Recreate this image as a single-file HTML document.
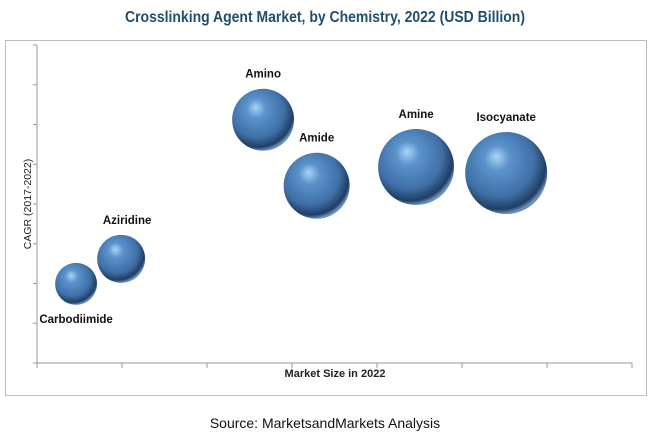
<!DOCTYPE html>
<html><head><meta charset="utf-8"><style>
body{margin:0;background:#fff;width:650px;height:435px;overflow:hidden;font-family:"Liberation Sans",sans-serif}
</style></head><body>
<svg id="chart" width="650" height="435" xmlns="http://www.w3.org/2000/svg">
<defs>
<radialGradient id="ball" cx="0.42" cy="0.38" r="0.62" fx="0.38" fy="0.3">
<stop offset="0" stop-color="#a9d4f7"/>
<stop offset="0.25" stop-color="#5c93cc"/>
<stop offset="0.7" stop-color="#3f6fa6"/>
<stop offset="0.92" stop-color="#1f3e63"/>
<stop offset="1" stop-color="#6d93bd"/>
</radialGradient>
</defs>
<text x="325" y="22" text-anchor="middle" font-family="Liberation Sans Narrow, Liberation Sans, sans-serif" font-weight="bold" font-size="15.5" fill="#1f4e6e" textLength="400" lengthAdjust="spacingAndGlyphs">Crosslinking Agent Market, by Chemistry, 2022 (USD Billion)</text>
<rect x="5.5" y="40.5" width="641" height="355" fill="none" stroke="#bbb"/>
<g id="axes"></g>
<g id="bubbles"></g>
<text x="335" y="377" text-anchor="middle" font-size="11" font-weight="bold" fill="#222">Market Size in 2022</text>
<text transform="translate(31,204) rotate(-90)" text-anchor="middle" font-size="10.5" fill="#222">CAGR (2017-2022)</text>
<text x="325" y="428" text-anchor="middle" font-size="14" fill="#111">Source: MarketsandMarkets Analysis</text>
</svg>
<script>
const categories=["Carbodiimide","Aziridine","Amino","Amide","Amine","Isocyanate"];
const marketSize=[0.46,0.99,2.66,3.29,4.46,5.52];
const cagr=[1.99,2.62,6.12,4.46,4.93,4.78];
const bubbleSize=[21,24,31,33,38,41];
const labelPos=["below","above","above","above","above","above"];
const NS="http://www.w3.org/2000/svg";
const x0=37,x1=632,y0=363,y1=45,xMax=7,yMax=8;
const xs=v=>x0+(x1-x0)*v/xMax;
const ys=v=>y0-(y0-y1)*v/yMax;
const ax=document.getElementById('axes');
function ln(a,b,c,d,name){const l=document.createElementNS(NS,'line');l.setAttribute('x1',a);l.setAttribute('y1',b);l.setAttribute('x2',c);l.setAttribute('y2',d);l.setAttribute('stroke','#999');l.setAttribute('stroke-width','1');


ax.appendChild(l);}
ln(x0,y1,x0,y0,'y-axis');ln(x0,y0,x1,y0,'x-axis');
for(let i=0;i<=xMax;i++){ln(xs(i),y0,xs(i),y0+5,'x-tick');}
for(let i=0;i<=yMax;i++){ln(x0-4,ys(i),x0,ys(i),'y-tick');}
const g=document.getElementById('bubbles');
categories.forEach((c,i)=>{
 const cx=xs(marketSize[i]),cy=ys(cagr[i]),r=bubbleSize[i];
 const e=document.createElementNS(NS,'ellipse');
 e.setAttribute('cx',cx);e.setAttribute('cy',cy);e.setAttribute('rx',r);e.setAttribute('ry',r);e.setAttribute('fill','url(#ball)');
 
 
 g.appendChild(e);
 const t=document.createElementNS(NS,'text');
 t.setAttribute('x',cx+(i==1?6:0));
 t.setAttribute('y',labelPos[i]=='below'?cy+r+18:cy-r-11);
 t.setAttribute('text-anchor','middle');t.setAttribute('font-size','11.5');t.setAttribute('font-weight','bold');t.setAttribute('fill','#111');
 t.textContent=c;
 
 
 g.appendChild(t);
});
</script>
</body></html>
